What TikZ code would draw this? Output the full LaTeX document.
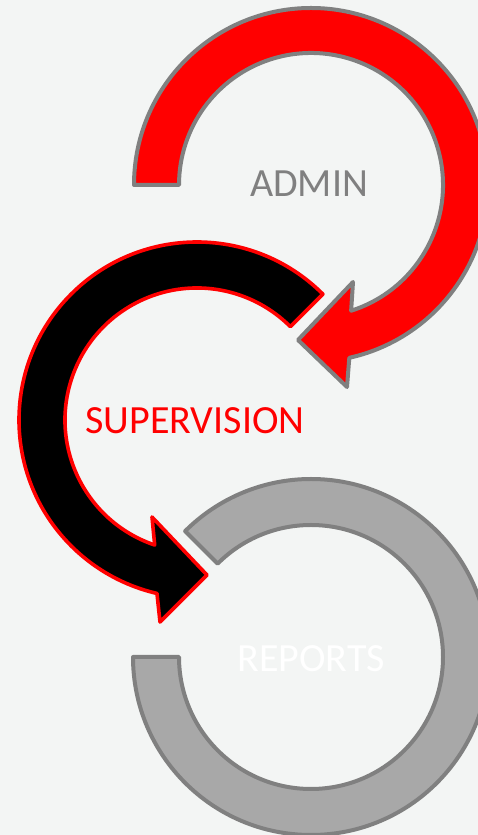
\documentclass[tikz,border=0pt]{standalone}
\usepackage{fontspec}
\setmainfont{Carlito}
\usetikzlibrary{calc}
\definecolor{bg}{HTML}{F3F5F4}
\definecolor{edgegray}{HTML}{808080}
\definecolor{ringgray}{HTML}{A8A8A8}
\begin{document}
\begin{tikzpicture}[x=1pt,y=1pt,
  band/.style={line width=4pt, line join=round},
  lbl/.style={font=\fontsize{40}{48}\selectfont, anchor=base, inner sep=0pt}]
\useasboundingbox (0,0) rectangle (478,835);
\clip (0,0) rectangle (478,835);
\fill[bg] (0,0) rectangle (478,835);
% centres
\coordinate (cr) at (311,650);
\coordinate (cb) at (197,415);
\coordinate (cg) at (311,178);
% red arrow (ADMIN)
\draw[band, draw=edgegray, fill=red]
  ($(cr)+(180:177)$) arc[start angle=180, end angle=-77.5, radius=177]
  -- (347,448) -- (298,495) -- (353,553)
  -- ($(cr)+(-72.3:132)$) arc[start angle=-72.3, end angle=180, radius=132] -- cycle;
% black arrow (SUPERVISION)
\draw[band, line width=3.6pt, draw=red, fill=black]
  ($(cb)+(45:132)$) -- ($(cb)+(45:178)$) arc[start angle=45, end angle=257, radius=178]
  -- (160,213) -- (207,260) -- (152,318)
  -- ($(cb)+(251.3:132)$) arc[start angle=251.3, end angle=45, radius=132] -- cycle;
% grey ring (REPORTS)
\draw[band, draw=edgegray, fill=ringgray]
  ($(cg)+(180:132)$) -- ($(cg)+(180:178)$) arc[start angle=180, end angle=495, radius=178]
  -- ($(cg)+(495:132)$) arc[start angle=495, end angle=180, radius=132] -- cycle;
% labels
\node[lbl, text=edgegray] (admin) at (309,638) {ADMIN};
\node[lbl, text=red] (supervision) at (195,401) {SUPERVISION};
\node[lbl, text=white] (reports) at (311,163) {REPORTS};
\end{tikzpicture}
\end{document}
